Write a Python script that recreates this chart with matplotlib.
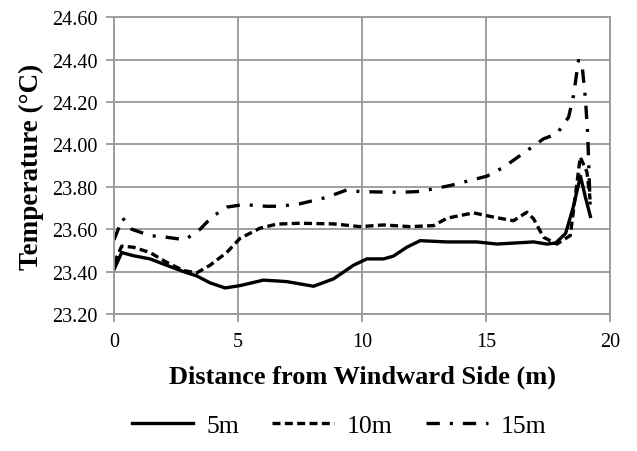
import matplotlib
matplotlib.use("Agg")
import matplotlib.pyplot as plt

# distance from windward side (m) and temperature (C) at three heights
x_5m = [0.0, 0.31, 0.78, 1.45, 2.12, 2.8, 3.33, 3.87, 4.48, 5.08, 6.02, 6.96, 8.04,
        8.85, 9.65, 10.19, 10.86, 11.26, 11.8, 12.34, 13.42, 14.62, 15.43, 16.91,
        17.45, 17.8, 18.2, 18.5, 18.8, 19.0, 19.2]
t_5m = [23.41, 23.49, 23.475, 23.46, 23.43, 23.40, 23.38, 23.347, 23.323, 23.334,
        23.36, 23.353, 23.331, 23.366, 23.43, 23.46, 23.46, 23.473, 23.515, 23.546,
        23.54, 23.54, 23.53, 23.54, 23.53, 23.535, 23.58, 23.70, 23.85, 23.75, 23.66]

x_10m = [0.0, 0.31, 0.78, 1.45, 2.12, 2.8, 3.33, 3.87, 4.54, 5.08, 5.89, 6.56, 7.5,
         8.85, 9.92, 10.86, 11.94, 12.88, 13.42, 14.49, 15.3, 16.1, 16.64, 16.91,
         17.31, 17.85, 18.39, 18.79, 19.06, 19.19]
t_10m = [23.44, 23.52, 23.515, 23.49, 23.444, 23.405, 23.394, 23.43, 23.49, 23.557,
         23.605, 23.624, 23.628, 23.625, 23.612, 23.62, 23.612, 23.617, 23.652,
         23.677, 23.657, 23.64, 23.68, 23.649, 23.562, 23.53, 23.57, 23.94, 23.87,
         23.74]

x_15m = [0.0, 0.35, 0.71, 1.45, 2.12, 2.86, 3.47, 3.94, 4.54, 5.21, 6.15, 6.69, 7.5,
         8.57, 9.38, 9.92, 11.53, 12.2, 12.88, 13.55, 15.03, 15.7, 16.64, 17.31,
         17.85, 18.32, 18.52, 18.72, 18.85, 19.0, 19.09, 19.2]
t_15m = [23.55, 23.652, 23.60, 23.57, 23.562, 23.55, 23.60, 23.657, 23.704, 23.716,
         23.708, 23.708, 23.72, 23.75, 23.785, 23.777, 23.774, 23.777, 23.79, 23.806,
         23.85, 23.892, 23.97, 24.026, 24.05, 24.128, 24.23, 24.395, 24.39, 24.215,
         24.05, 23.68]

x_ticks = [0, 5, 10, 15, 20]
y_ticks = [23.2, 23.4, 23.6, 23.8, 24.0, 24.2, 24.4, 24.6]

plt.rcParams['font.family'] = ['Liberation Serif', 'DejaVu Serif']

fig = plt.figure(figsize=(6.37, 4.52), dpi=100)
ax = fig.add_axes([0.179, 0.303, 0.779, 0.657])

ax.plot(x_5m, t_5m, color='black', lw=2.4, label='5m')
ax.plot(x_10m, t_10m, color='black', lw=2.4, dashes=(2.4, 1.3), label='10m')
ax.plot(x_15m, t_15m, color='black', lw=2.4, dashes=(4, 3, 0.9, 3), label='15m')

ax.set_xlim(0, 20)
ax.set_ylim(23.2, 24.6)
ax.set_xticks(x_ticks)
ax.set_yticks(y_ticks)
ax.set_yticklabels([f"{v:.2f}" for v in y_ticks])
ax.grid(True, color='#999999', lw=1.3)
for s in ax.spines.values():
    s.set_color('#999999')
    s.set_linewidth(1.3)
ax.tick_params(colors='#999999', labelcolor='black', labelsize=14.5, length=6, width=1.3)
ax.tick_params(axis='y', pad=6)
ax.tick_params(axis='x', pad=7)

ax.set_xlabel('Distance from Windward Side (m)', fontsize=19, fontweight='bold', labelpad=10)
ax.set_ylabel('Temperature (\u00b0C)', fontsize=19.5, fontweight='bold', labelpad=6)

fig.legend(loc='center', bbox_to_anchor=(0.532, 0.057), ncol=3, frameon=False,
           fontsize=18.5, handlelength=2.4, columnspacing=1.3, handletextpad=0.5)

fig.savefig('out.png', dpi=100)
